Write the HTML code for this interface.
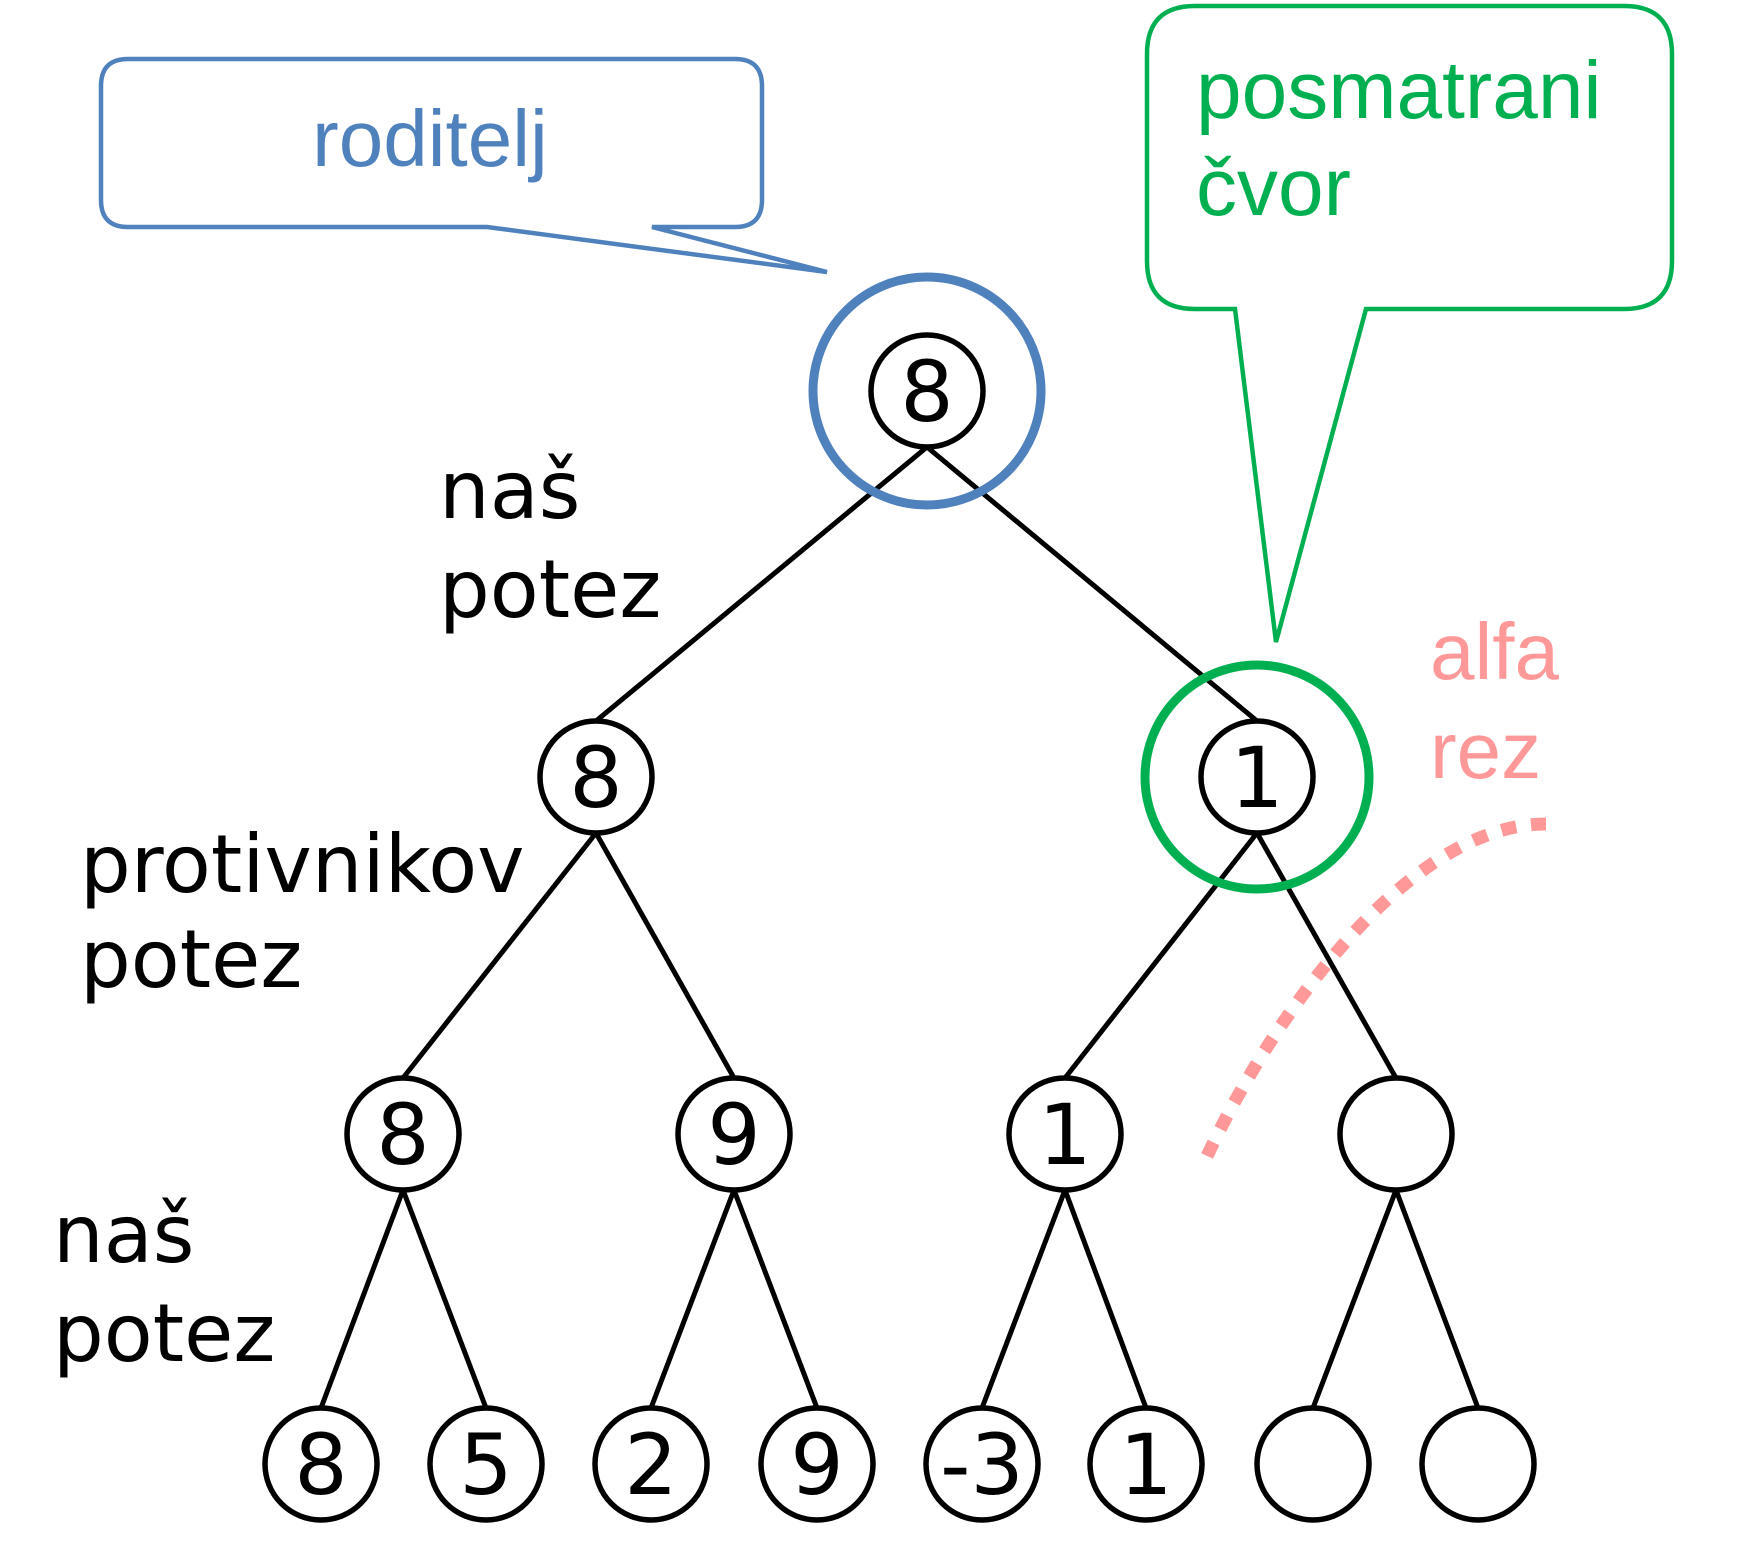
<!DOCTYPE html>
<html><head><meta charset="utf-8"><style>
html,body{margin:0;padding:0;background:#fff;}
svg{display:block;}
</style></head><body>
<svg width="1750" height="1562" viewBox="0 0 1750 1562" xmlns="http://www.w3.org/2000/svg">
<g stroke="#000" stroke-width="5" fill="none">
<line x1="927" y1="447" x2="596" y2="721"/>
<line x1="927" y1="447" x2="1257" y2="721"/>
<line x1="596" y1="833" x2="403" y2="1078"/>
<line x1="596" y1="833" x2="734" y2="1078"/>
<line x1="1257" y1="833" x2="1065" y2="1078"/>
<line x1="1257" y1="833" x2="1396" y2="1078"/>
<line x1="403" y1="1190" x2="321" y2="1408"/>
<line x1="403" y1="1190" x2="486" y2="1408"/>
<line x1="734" y1="1190" x2="651" y2="1408"/>
<line x1="734" y1="1190" x2="817" y2="1408"/>
<line x1="1065" y1="1190" x2="982" y2="1408"/>
<line x1="1065" y1="1190" x2="1146" y2="1408"/>
<line x1="1396" y1="1190" x2="1313" y2="1408"/>
<line x1="1396" y1="1190" x2="1478" y2="1408"/>
</g>
<g stroke="#000" stroke-width="5.5" fill="#fff">
<circle cx="927" cy="391" r="56"/>
<circle cx="596" cy="777" r="56"/>
<circle cx="1257" cy="777" r="56"/>
<circle cx="403" cy="1134" r="56"/>
<circle cx="734" cy="1134" r="56"/>
<circle cx="1065" cy="1134" r="56"/>
<circle cx="1396" cy="1134" r="56"/>
<circle cx="321" cy="1464" r="56"/>
<circle cx="486" cy="1464" r="56"/>
<circle cx="651" cy="1464" r="56"/>
<circle cx="817" cy="1464" r="56"/>
<circle cx="982" cy="1464" r="56"/>
<circle cx="1146" cy="1464" r="56"/>
<circle cx="1313" cy="1464" r="56"/>
<circle cx="1478" cy="1464" r="56"/>
</g>
<circle cx="927" cy="391" r="114" fill="none" stroke="#4f81bd" stroke-width="9"/>
<circle cx="1257" cy="777" r="112" fill="none" stroke="#00b050" stroke-width="9"/>
<g font-family="'DejaVu Sans', sans-serif" font-size="84" text-anchor="middle" fill="#000">
<text x="927" y="421">8</text>
<text x="596" y="807">8</text>
<text x="1257" y="807">1</text>
<text x="403" y="1164">8</text>
<text x="734" y="1164">9</text>
<text x="1065" y="1164">1</text>
<text x="321" y="1494">8</text>
<text x="486" y="1494">5</text>
<text x="651" y="1494">2</text>
<text x="817" y="1494">9</text>
<text x="982" y="1494">-3</text>
<text x="1146" y="1494">1</text>
</g>
<g font-family="'DejaVu Sans', sans-serif" font-size="80" fill="#000">
<text x="439" y="518">naš</text>
<text x="439" y="617">potez</text>
<text x="80" y="892">protivnikov</text>
<text x="80" y="987">potez</text>
<text x="53" y="1262">naš</text>
<text x="53" y="1361">potez</text>
</g>
<path d="M128,59 H735 Q762,59 762,86 V200 Q762,227 735,227 H652 L827,272 L487,227 H128 Q101,227 101,200 V86 Q101,59 128,59 Z" fill="none" stroke="#4f81bd" stroke-width="4.5"/>
<text x="430" y="166" font-family="'Liberation Sans', sans-serif" font-size="80" fill="#4f81bd" text-anchor="middle">roditelj</text>
<path d="M1195,6 H1624 Q1672,6 1672,54 V261 Q1672,309 1624,309 H1366 L1276,642 L1235,309 H1195 Q1147,309 1147,261 V54 Q1147,6 1195,6 Z" fill="none" stroke="#00b050" stroke-width="4.5"/>
<g font-family="'Liberation Sans', sans-serif" font-size="82" fill="#00b050">
<text x="1196" y="118">posmatrani</text>
<text x="1196" y="215">čvor</text>
</g>
<g font-family="'Liberation Sans', sans-serif" font-size="80" fill="#ff9999">
<text x="1430" y="679">alfa</text>
<text x="1430" y="778">rez</text>
</g>
<path d="M1546,824 C1400,824 1260,1038 1203,1165" fill="none" stroke="#ff9999" stroke-width="13" stroke-dasharray="15 15"/>
</svg>
</body></html>
